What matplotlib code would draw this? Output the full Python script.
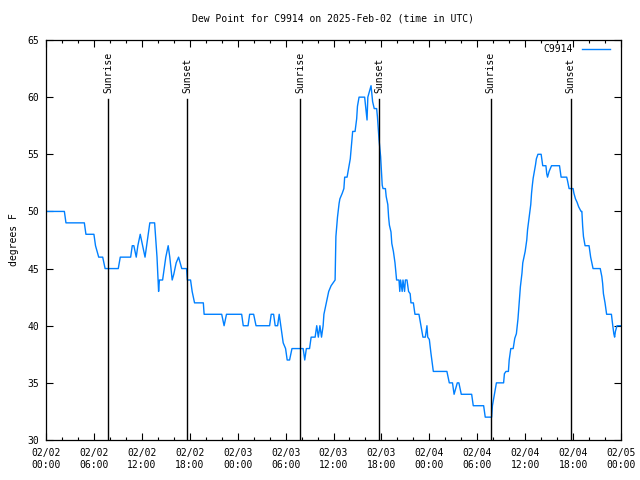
import pandas as pd
import matplotlib
matplotlib.use('Agg')
import matplotlib.pyplot as plt
import matplotlib.dates as mdates

# -------------------------
# DATA (hours after 2025-02-02 00:00 UTC, dew point in F)
# -------------------------
hours = [0, 2.3, 2.5, 4.8, 5.0, 6.0, 6.2, 6.6, 7.1, 7.4, 9.05, 9.3, 10.6, 10.8, 11.0,
         11.3, 11.5, 11.8, 12.1, 12.4, 12.6, 12.8, 13.0, 13.4, 13.6, 13.9, 14.1, 14.2,
         14.6, 14.8, 15.0, 15.3, 15.5, 15.8, 16.0, 16.3, 16.6, 16.8, 17.0, 17.6, 17.7,
         18.1, 18.3, 18.6, 19.7, 19.8, 22.0, 22.3, 22.6, 24.5, 24.7, 25.3, 25.5, 26.0,
         26.3, 28.0, 28.2, 28.5, 28.7, 29.0, 29.2, 29.5, 29.7, 30.0, 30.2, 30.5, 30.8,
         32.2, 32.4, 32.6, 33.0, 33.2, 33.7, 33.9, 34.1, 34.3, 34.5, 34.7, 34.8, 35.1,
         35.4, 35.7, 36.2, 36.3, 36.5, 36.7, 36.8, 37.1, 37.3, 37.4, 37.7, 37.9, 38.1,
         38.3, 38.4, 38.7, 38.9, 39.0, 39.2, 39.9, 40.2, 40.3, 40.5, 40.7, 40.9, 41.1,
         41.4, 41.5, 41.7, 41.9, 42.1, 42.2, 42.5, 42.6, 42.8, 42.9, 43.0, 43.2, 43.3,
         43.5, 43.7, 43.8, 43.9, 44.2, 44.3, 44.4, 44.6, 44.7, 44.9, 45.0, 45.2, 45.4,
         45.6, 45.7, 46.0, 46.2, 46.7, 46.9, 47.2, 47.5, 47.7, 47.8, 48.0, 48.2, 48.5,
         50.2, 50.5, 50.9, 51.1, 51.5, 51.7, 52.0, 53.3, 53.5, 54.8, 55.0, 55.8, 55.9,
         56.1, 56.4, 57.3, 57.4, 57.6, 57.9, 58.0, 58.2, 58.5, 58.7, 58.9, 59.1, 59.2,
         59.3, 59.4, 59.6, 59.7, 60.0, 60.2, 60.3, 60.5, 60.7, 60.8, 60.9, 61.0, 61.1,
         61.3, 61.4, 61.6, 62.0, 62.2, 62.6, 62.7, 62.8, 63.0, 63.3, 64.3, 64.5, 65.2,
         65.3, 65.5, 66.0, 66.1, 66.3, 66.5, 66.7, 67.0, 67.1, 67.2, 67.3, 67.5, 68.0,
         68.2, 68.5, 69.4, 69.6, 69.7, 69.8, 70.0, 70.2, 70.8, 70.9, 71.1, 71.2, 71.3,
         71.5, 72.0]
dewpoint = [50, 50, 49, 49, 48, 48, 47, 46, 46, 45, 45, 46, 46, 47, 47,
            46, 47, 48, 47, 46, 47, 48, 49, 49, 49, 46, 43, 44,
            44, 45, 46, 47, 46, 44, 44.5, 45.5, 46, 45.5, 45, 45, 44,
            44, 43, 42, 42, 41, 41, 40, 41, 41, 40, 40, 41, 41,
            40, 40, 41, 41, 40, 40, 41, 39.5, 38.5, 38, 37, 37, 38,
            38, 37, 38, 38, 39, 39, 40, 39, 40, 39, 40, 41, 42,
            43, 43.5, 44, 47.8, 49.5, 50.7, 51.1, 51.6, 52, 53, 53, 53.8, 54.6,
            56.2, 57, 57, 58.1, 59.2, 60, 60, 58, 60, 60.5, 61, 59.6, 59,
            59, 58.3, 56.3, 54.8, 52.3, 52, 52, 51.3, 50.6, 49.5, 48.8, 48.2, 47.2,
            46.5, 45.5, 44.7, 44, 44, 43, 44, 43, 44, 43, 44, 44, 43,
            42.8, 42, 42, 41, 41, 40.2, 39, 39, 40, 39, 38.8, 37.6, 36,
            36, 35, 35, 34, 35, 35, 34, 34, 33, 33, 32, 32, 33,
            33.8, 35, 35, 35.8, 36, 36, 37, 38, 38, 38.9, 39.3, 40.6, 41.5,
            42.5, 43.4, 44.6, 45.5, 46.5, 47.5, 48.4, 49.5, 50.6, 51.6, 52.3, 52.9, 53.3,
            54.1, 54.6, 55, 55, 54, 54, 53.3, 53, 53.5, 54, 54, 53, 53,
            52.7, 52, 52, 51.6, 51.1, 50.8, 50.4, 50, 50, 48.7, 47.8, 47, 47,
            46, 45, 45, 44.3, 43.7, 42.8, 42, 41, 41, 40.4, 39.3, 39, 39.5,
            40, 40]

sun_hours = [7.76, 17.66, 31.8, 41.7, 55.7, 65.7]
sun_labels = ['Sunrise', 'Sunset', 'Sunrise', 'Sunset', 'Sunrise', 'Sunset']

station = 'C9914'
start = pd.Timestamp('2025-02-02 00:00')

times = start + pd.to_timedelta(hours, unit='h')
sun_times = start + pd.to_timedelta(sun_hours, unit='h')

# -------------------------
# PLOT
# -------------------------
plt.rcParams['font.family'] = 'DejaVu Sans Mono'
plt.rcParams['font.size'] = 7

fig = plt.figure(figsize=(6.4, 4.8), dpi=100)
ax = fig.add_axes([46 / 640, 40 / 480, 575 / 640, 400 / 480])

ax.plot(times, dewpoint, color='#0080ff', lw=1.0, label=station)

# sunrise / sunset markers: line up to ~60 F, label sitting just above it
for t, lab in zip(sun_times, sun_labels):
    ax.axvline(t, ymin=0, ymax=0.8525, color='black', lw=1.0)
    ax.text(t, 0.8675, lab, transform=ax.get_xaxis_transform(), rotation=90,
            ha='center', va='bottom')

ax.set_xlim(start, start + pd.Timedelta(hours=72))
ax.set_ylim(30, 65)
ax.set_yticks(range(30, 66, 5))

ax.xaxis.set_major_locator(mdates.HourLocator(byhour=[0, 6, 12, 18]))
ax.xaxis.set_minor_locator(mdates.HourLocator(interval=2))
ax.xaxis.set_major_formatter(mdates.DateFormatter('%m/%d\n%H:%M'))

ax.tick_params(which='both', direction='in', top=True, right=True)
ax.tick_params(which='major', length=5, width=0.8)
ax.tick_params(axis='x', which='major', pad=6)
ax.tick_params(axis='y', which='major', pad=5)
ax.tick_params(which='minor', length=2.5, width=0.8)
for s in ax.spines.values():
    s.set_linewidth(0.9)

ax.set_ylabel('degrees F', labelpad=6)
ax.set_title('Dew Point for C9914 on 2025-Feb-02 (time in UTC)', fontsize=7, pad=13)

ax.legend(loc='upper right', bbox_to_anchor=(0.981, 0.99), frameon=False,
          markerfirst=False, handlelength=2.9, handletextpad=0.9,
          borderaxespad=0, borderpad=0)

plt.savefig('out.png', dpi=100)
